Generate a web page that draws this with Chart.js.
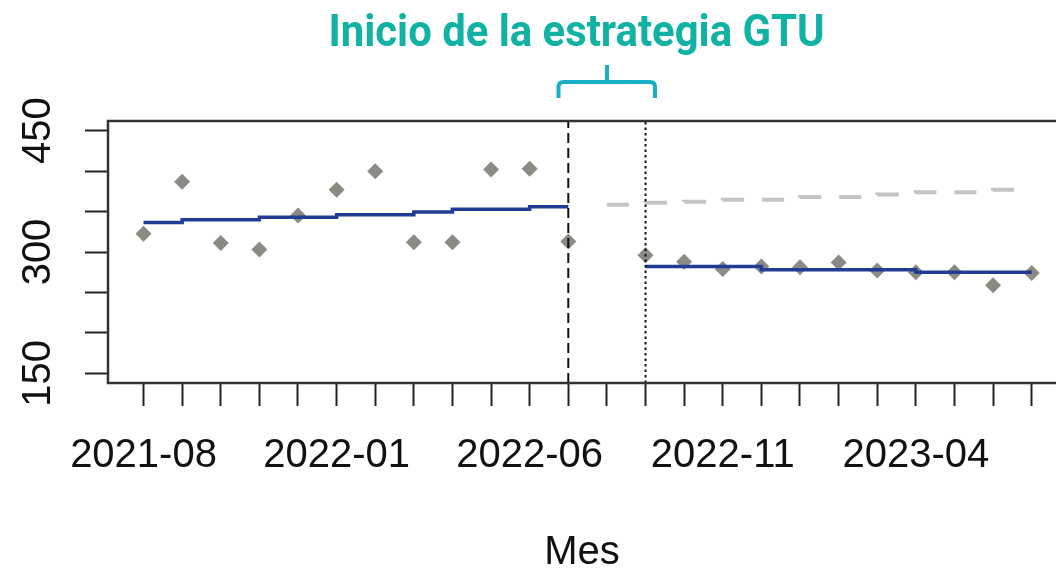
<!DOCTYPE html>
<html>
<head>
<meta charset="utf-8">
<script src="https://cdn.jsdelivr.net/npm/chart.js@4.4.1/dist/chart.umd.min.js"></script>
<style>
  html, body { margin: 0; padding: 0; background: #ffffff; }
  #c { display: block; }
</style>
</head>
<body>
<canvas id="c" width="1056" height="570"></canvas>
<script>
// ---- data ----
const months = ['2021-08','2021-09','2021-10','2021-11','2021-12','2022-01','2022-02','2022-03',
                '2022-04','2022-05','2022-06','2022-07','2022-08','2022-09','2022-10','2022-11',
                '2022-12','2023-01','2023-02','2023-03','2023-04','2023-05','2023-06','2023-07'];
const observed = [322.5, 387, 311, 303, 345, 377, 400, 312, 312, 402, 403, 313,
                  null, 296, 288, 279, 282, 281, 287, 277, 275, 275, 259, 274];
const fittedPre = [336.5, 340, 340, 343, 343, 346, 346, 349.5, 353, 353, 356, 356];   // months 0..11
const fittedPost = [282, 282, 282, 278, 278, 278, 278, 275, 275, 275, 275];            // months 13..23
const counterfactual = [358.5, 361, 362, 364.5, 364.5, 368, 368, 371, 374, 374, 377, 377]; // months 12..23
const yTickValues = [150, 200, 250, 300, 350, 400, 450];
const yTickLabels = ['150', '', '', '300', '', '', '450'];
const xLabelEvery = 5;
const interventionMonth = '2022-07';
const effectMonth = '2022-09';
const titleText = 'Inicio de la estrategia GTU';
const xAxisTitle = 'Mes';

const yMin = 138, yMax = 462;
const xMin = -0.92, xMax = 23.63;
const iStart = months.indexOf(interventionMonth);
const iEffect = months.indexOf(effectMonth);

const obsPts = observed.map((v, i) => v === null ? null : {x: i, y: v}).filter(p => p);
const prePts = fittedPre.map((v, i) => ({x: i, y: v}));
const postPts = fittedPost.map((v, i) => ({x: iEffect + i, y: v}));
const cfPts = counterfactual.map((v, i) => ({x: iStart + 1 + i, y: v}));

const frame = {
  id: 'frame',
  afterDatasetsDraw(chart) {
    const {ctx, chartArea: a} = chart;
    ctx.save();
    ctx.strokeStyle = '#333333';
    ctx.lineWidth = 2.5;
    ctx.strokeRect(a.left, a.top, a.right - a.left + 40, a.bottom - a.top);
    ctx.restore();
  },
  afterDraw(chart) {
    const {ctx} = chart;
    ctx.save();
    ctx.fillStyle = '#0fb2a3';
    ctx.font = 'bold 45px Roboto';
    ctx.textAlign = 'center';
    ctx.textBaseline = 'alphabetic';
    ctx.translate(576.5, 46);
    ctx.scale(0.93, 1);
    ctx.fillText(titleText, 0, 0);
    ctx.restore();
    // bracket
    ctx.save();
    ctx.strokeStyle = '#18afc6';
    ctx.lineWidth = 4;
    ctx.lineJoin = 'round';
    ctx.beginPath();
    ctx.moveTo(558.5, 98);
    ctx.lineTo(558.5, 87);
    ctx.quadraticCurveTo(558.5, 82, 563.5, 82);
    ctx.lineTo(650, 82);
    ctx.quadraticCurveTo(655, 82, 655, 87);
    ctx.lineTo(655, 98);
    ctx.moveTo(607, 82);
    ctx.lineTo(607, 65);
    ctx.stroke();
    ctx.restore();
  }
};

const axisFont = {family: 'Liberation Sans, Arial, sans-serif', size: 40, lineHeight: 1};
const xTickFont = {family: 'Liberation Sans, Arial, sans-serif', size: 40, lineHeight: 2.5};

new Chart(document.getElementById('c'), {
  type: 'scatter',
  data: {
    datasets: [
      {
        label: 'vline-start', type: 'line', order: 1,
        data: [{x: iStart, y: yMin}, {x: iStart, y: yMax}],
        borderColor: '#111111', borderWidth: 2, borderDash: [10, 5],
        pointRadius: 0, showLine: true
      },
      {
        label: 'vline-effect', type: 'line', order: 1,
        data: [{x: iEffect, y: yMin}, {x: iEffect, y: yMax}],
        borderColor: '#111111', borderWidth: 2, borderDash: [2.5, 3],
        pointRadius: 0, showLine: true
      },
      {
        label: 'fitted-pre', type: 'line', order: 2,
        data: prePts, stepped: true,
        borderColor: '#203c94', borderWidth: 3.5, pointRadius: 0, showLine: true
      },
      {
        label: 'fitted-post', type: 'line', order: 2,
        data: postPts, stepped: true,
        borderColor: '#203c94', borderWidth: 3.5, pointRadius: 0, showLine: true
      },
      {
        label: 'counterfactual', type: 'line', order: 3,
        data: cfPts, stepped: true,
        borderColor: '#c4c4c4', borderWidth: 4, borderDash: [22, 18],
        pointRadius: 0, showLine: true
      },
      {
        label: 'observed', order: 10,
        data: obsPts,
        pointStyle: 'rectRot', pointRadius: 8, pointBorderWidth: 0,
        backgroundColor: '#8b8b84', borderColor: '#8b8b84'
      }
    ]
  },
  options: {
    responsive: false,
    animation: false,
    devicePixelRatio: 1,
    layout: {autoPadding: false, padding: {top: 121, left: 0, right: 0, bottom: 0}},
    plugins: {legend: {display: false}, tooltip: {enabled: false}, title: {display: false}},
    scales: {
      x: {
        type: 'linear', position: 'bottom',
        min: xMin, max: xMax,
        afterBuildTicks: s => { s.ticks = months.map((m, i) => ({value: i})); },
        afterFit: s => { s.height = 187; },
        ticks: {
          autoSkip: false, minRotation: 0, maxRotation: 0, padding: 0,
          color: '#111111', font: xTickFont,
          callback: (v) => (v % xLabelEvery === 0 ? months[v] : '')
        },
        grid: {display: true, drawOnChartArea: false, drawTicks: true, tickLength: 23,
               tickColor: '#222222', tickWidth: 2},
        border: {display: false},
        title: {display: true, text: xAxisTitle, color: '#111111', font: axisFont,
                padding: {top: 0, bottom: -3}}
      },
      y: {
        type: 'linear', position: 'left',
        min: yMin, max: yMax,
        afterBuildTicks: s => { s.ticks = yTickValues.map(v => ({value: v})); },
        afterFit: s => { s.width = 108; },
        ticks: {
          autoSkip: false, minRotation: 90, maxRotation: 90, padding: 13, crossAlign: 'center',
          color: '#111111', font: axisFont,
          callback: (v) => { const k = yTickValues.indexOf(v); return k >= 0 ? yTickLabels[k] : ''; }
        },
        grid: {display: true, drawOnChartArea: false, drawTicks: true, tickLength: 23,
               tickColor: '#222222', tickWidth: 2},
        border: {display: false}
      }
    }
  },
  plugins: [frame]
});
</script>
</body>
</html>
